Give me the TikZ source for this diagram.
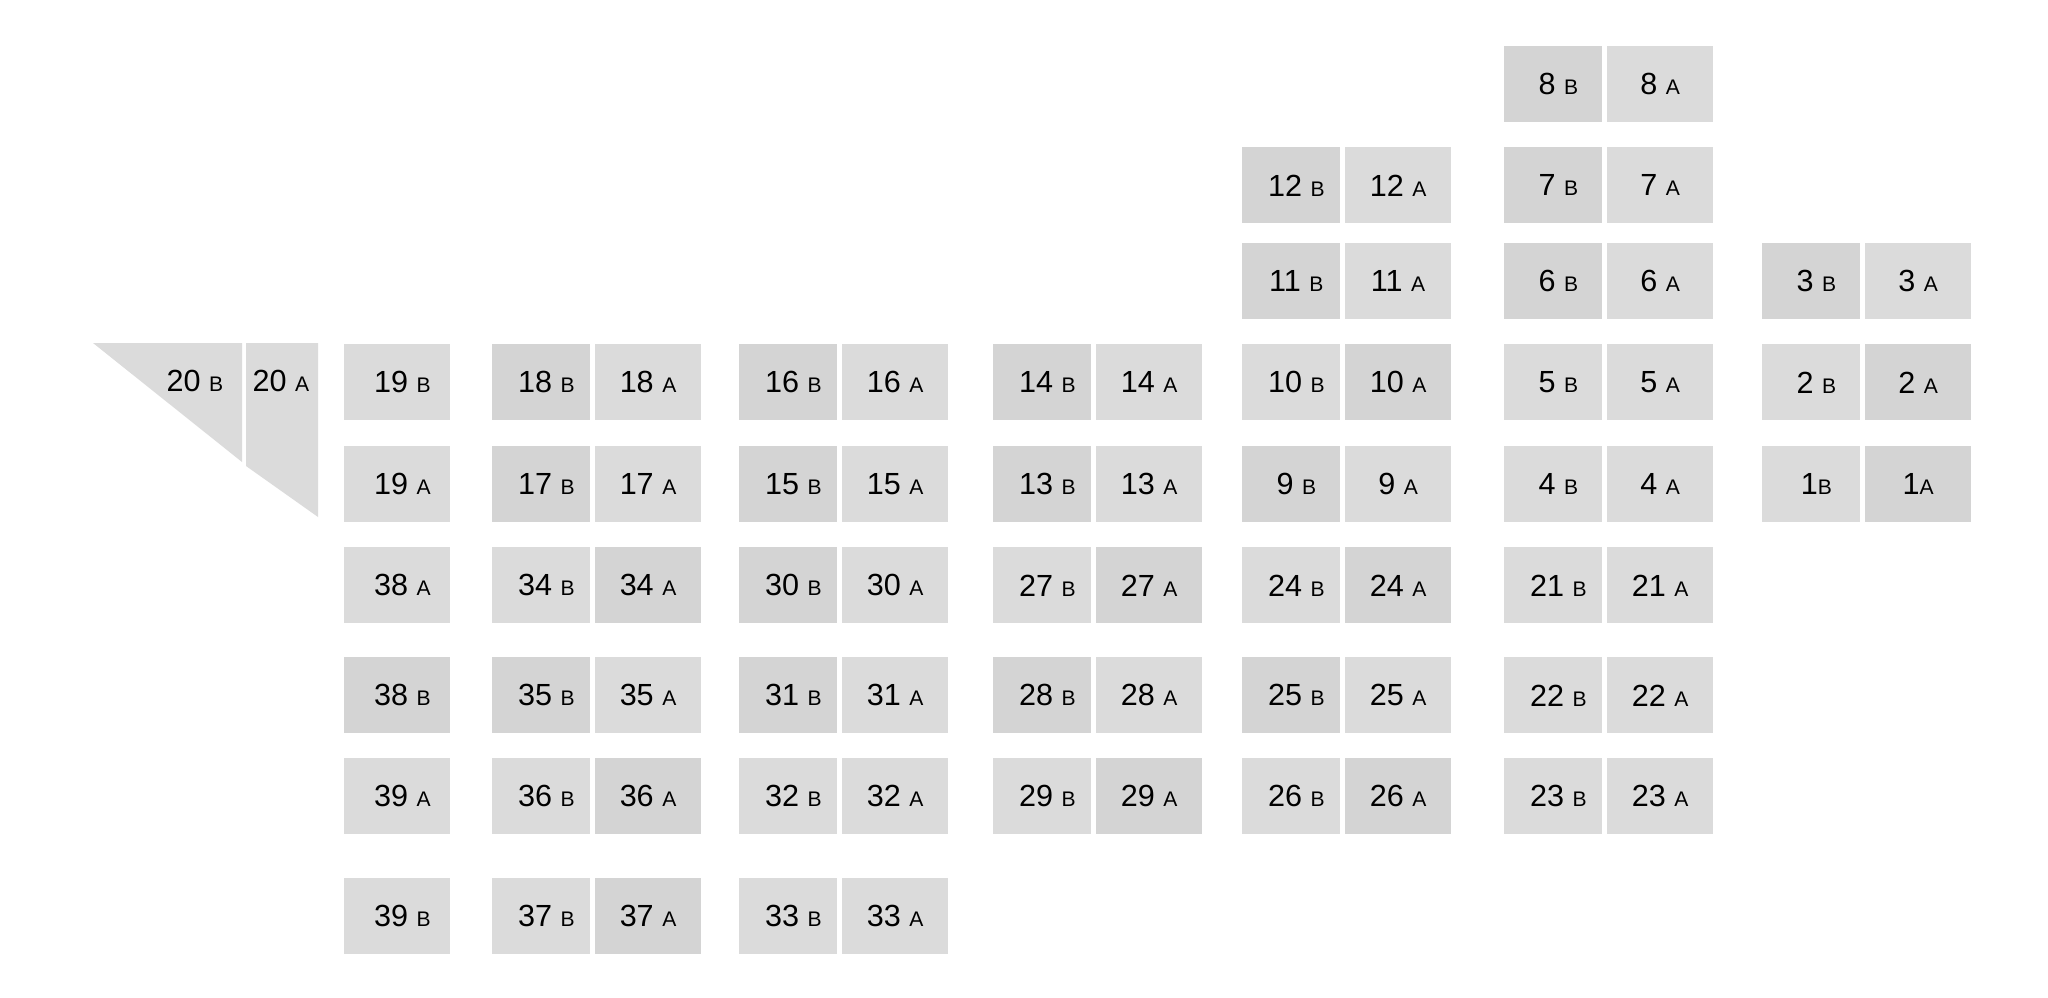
\documentclass[tikz,border=0pt]{standalone}
\usepackage{fontspec}
\setmainfont{Liberation Sans}
\usetikzlibrary{positioning}
\definecolor{seatlt}{RGB}{219,219,219}
\definecolor{seatdk}{RGB}{212,212,212}
\newcommand{\numsize}{\fontsize{17.4}{20}\selectfont}
\newcommand{\letsize}{\fontsize{12}{14}\selectfont}
\tikzset{
  seat/.style={anchor=north west, inner sep=0pt, minimum height=1.52cm, font=\numsize},
  seatB/.style={seat, minimum width=1.96cm},
  seatA/.style={seat, minimum width=2.12cm},
}

\begin{document}
\begin{tikzpicture}[x=0.02cm, y=-0.02cm]
    \useasboundingbox (0,0) rectangle (2048,997);
    % wedge at the left end
    \fill[seatlt] (93,343) -- (242,343) -- (242,462) -- cycle;
    \fill[seatlt] (246,343) -- (318,343) -- (318,517) -- (246,466) -- cycle;
    \node[font=\numsize] (t20B) at (195,381) {20 {\letsize B}};
    \node[font=\numsize] (t20A) at (281,381) {20 {\letsize A}};
    % single column
    \foreach \n/\l/\y/\c in {19/B/344/seatlt, 19/A/446/seatlt, 38/A/547/seatlt,
                             38/B/657/seatdk, 39/A/758/seatlt, 39/B/878/seatlt}
        \node[seatA, fill=\c] (s\n\l) at (344,\y) {\hspace*{0.2cm}\n\ {\letsize \l}};
    % pairs B | A
    \foreach \n/\x/\y/\cb/\ca in {
            18/492/344/seatdk/seatlt, 17/492/446/seatdk/seatlt, 34/492/547/seatlt/seatdk,
            35/492/657/seatdk/seatlt, 36/492/758/seatlt/seatdk, 37/492/878/seatlt/seatdk,
            16/739/344/seatdk/seatlt, 15/739/446/seatdk/seatlt, 30/739/547/seatdk/seatlt,
            31/739/657/seatdk/seatlt, 32/739/758/seatlt/seatlt, 33/739/878/seatlt/seatlt,
            14/993/344/seatdk/seatlt, 13/993/446/seatdk/seatlt, 27/993/547/seatlt/seatdk,
            28/993/657/seatdk/seatlt, 29/993/758/seatlt/seatdk,
            12/1242/147/seatdk/seatlt, 11/1242/243/seatdk/seatlt, 10/1242/344/seatlt/seatdk,
            9/1242/446/seatdk/seatlt, 24/1242/547/seatlt/seatdk, 25/1242/657/seatdk/seatlt,
            26/1242/758/seatlt/seatdk,
            8/1504/46/seatdk/seatlt, 7/1504/147/seatdk/seatlt, 6/1504/243/seatdk/seatlt,
            5/1504/344/seatlt/seatlt, 4/1504/446/seatlt/seatlt, 21/1504/547/seatlt/seatlt,
            22/1504/657/seatlt/seatlt, 23/1504/758/seatlt/seatlt,
            3/1762/243/seatdk/seatlt, 2/1762/344/seatlt/seatdk}
    {
        \node[seatB, fill=\cb] (s\n B) at (\x,\y) {\hspace*{0.2cm}\n\ {\letsize B}};
        \node[seatA, fill=\ca, right=0.08cm of s\n B] (s\n A) {\n\ {\letsize A}};
    }
    \node[seatB, fill=seatlt] (s1B) at (1762,446) {\hspace*{0.2cm}1{\letsize B}};
    \node[seatA, fill=seatdk, right=0.08cm of s1B] (s1A) {1{\letsize A}};
\end{tikzpicture}
\end{document}
